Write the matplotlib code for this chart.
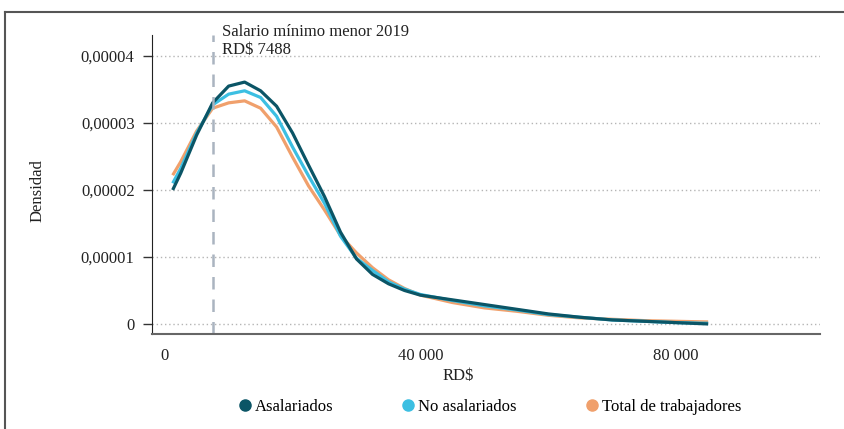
import matplotlib
matplotlib.use("Agg")
import matplotlib.pyplot as plt
from matplotlib.lines import Line2D
from matplotlib.ticker import FuncFormatter

plt.rcParams["font.family"] = ["Liberation Serif", "DejaVu Serif"]
plt.rcParams["font.size"] = 12

# ingreso en RD$
x_vals = [1250, 2500, 5000, 7500, 10000, 12500, 15000, 17500, 20000, 22500,
          25000, 27500, 30000, 32500, 35000, 37500, 40000, 45000, 50000,
          55000, 60000, 65000, 70000, 75000, 80000, 85000]

# densidad (x 1e-5)
asalariados = [2.00, 2.25, 2.82, 3.30, 3.55, 3.61, 3.48, 3.25, 2.85, 2.37,
               1.90, 1.37, 0.97, 0.74, 0.60, 0.50, 0.43, 0.36, 0.29,
               0.22, 0.15, 0.10, 0.06, 0.04, 0.02, 0.00]
no_asalariados = [2.10, 2.32, 2.85, 3.27, 3.43, 3.48, 3.38, 3.10, 2.64, 2.21,
                  1.80, 1.31, 0.98, 0.80, 0.63, 0.52, 0.44, 0.35, 0.27,
                  0.21, 0.14, 0.10, 0.06, 0.04, 0.02, 0.01]
total = [2.22, 2.42, 2.88, 3.22, 3.30, 3.33, 3.22, 2.94, 2.49, 2.06,
         1.70, 1.32, 1.06, 0.84, 0.66, 0.53, 0.43, 0.32, 0.24,
         0.19, 0.13, 0.09, 0.07, 0.05, 0.04, 0.03]

salario_minimo = 7488
series = ["Asalariados", "No asalariados", "Total de trabajadores"]
colors = ["#0b5566", "#3cbfe2", "#f0a06c"]

fig = plt.figure(figsize=(8.44, 4.29), dpi=100)
ax = fig.add_axes([0.180, 0.2214, 0.7916, 0.6966])

# marco exterior
fig.add_artist(Line2D([5 / 844, 1], [1 - 12 / 429, 1 - 12 / 429],
                      transform=fig.transFigure, color="#555555", lw=1.5))
fig.add_artist(Line2D([5 / 844, 5 / 844], [0, 1 - 12 / 429],
                      transform=fig.transFigure, color="#555555", lw=1.5))

for data, c in zip([total, no_asalariados, asalariados], colors[::-1]):
    ax.plot(x_vals, [v * 1e-5 for v in data], color=c, lw=2.3,
            solid_capstyle="butt", solid_joinstyle="round")

ax.axvline(salario_minimo, color="#aab4c0", lw=1.8, ls=(0, (5, 4)))
ax.text(8900, 4.47e-5, "Salario mínimo menor 2019\nRD$ " + str(salario_minimo),
        ha="left", va="top", fontsize=12, color="#222222", clip_on=False,
        linespacing=1.15)

ax.set_xlim(-2000, 102500)
ax.set_ylim(-0.15e-5, 4.31e-5)
ax.set_yticks([0, 1e-5, 2e-5, 3e-5, 4e-5])
ax.set_xticks([0, 40000, 80000])
ax.yaxis.set_major_formatter(FuncFormatter(
    lambda v, p: "0" if v == 0 else ("%.5f" % v).replace(".", ",")))
ax.xaxis.set_major_formatter(FuncFormatter(
    lambda v, p: "0" if v == 0 else "{:,.0f}".format(v).replace(",", " ")))

ax.grid(axis="y", color="#b5b5b5", ls=(0, (1, 2)), lw=1)
ax.set_axisbelow(True)
for s in ["top", "right"]:
    ax.spines[s].set_visible(False)
ax.spines["left"].set_color("#222222")
ax.spines["bottom"].set_color("#666666")
ax.spines["bottom"].set_linewidth(1.5)
ax.tick_params(axis="y", length=6.5, width=1, color="#333333", pad=6,
               labelcolor="#222222")
ax.tick_params(axis="x", length=0, pad=10, labelcolor="#222222")

ax.set_ylabel("Densidad", color="#222222")
ax.yaxis.set_label_coords(-0.16, 0.48)
ax.set_xlabel("RD$", color="#222222")
ax.xaxis.set_label_coords(0.458, -0.115)

handles = [Line2D([], [], ls="none", marker="o", markersize=8, color=c,
                  label=s) for s, c in zip(series, colors)]
fig.legend(handles=handles, loc="center", bbox_to_anchor=(0.58, 0.052),
           ncol=3, frameon=False, handlelength=0.8, handletextpad=0.2,
           columnspacing=4.1, fontsize=12)

fig.savefig("out.png", dpi=100)
